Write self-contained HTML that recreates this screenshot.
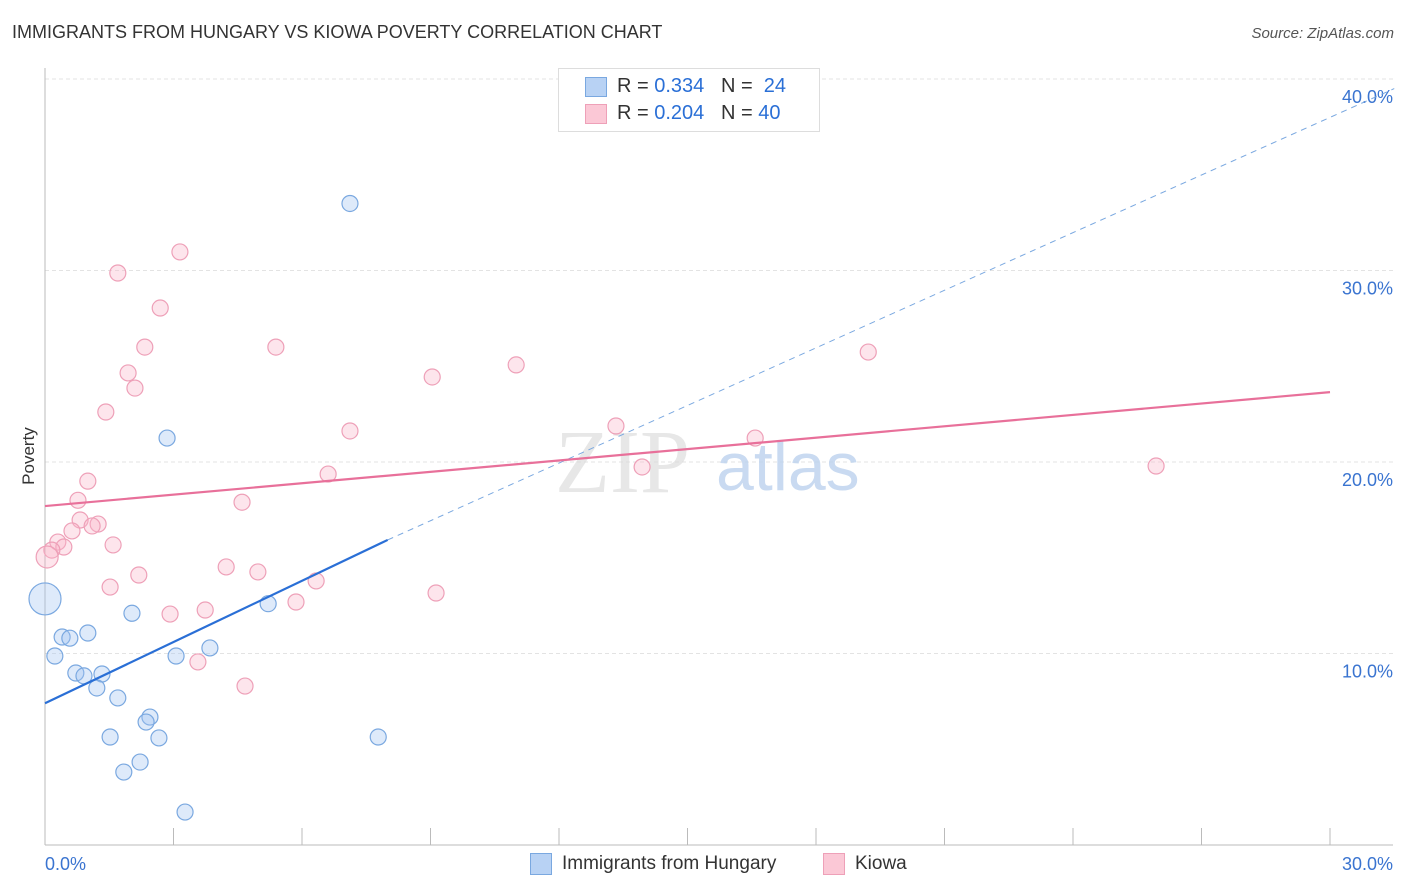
<!DOCTYPE html>
<html><head><meta charset="utf-8"><style>
body{margin:0;background:#fff;font-family:"Liberation Sans",sans-serif;}
#wrap{position:relative;width:1406px;height:892px;overflow:hidden}
.t{position:absolute;white-space:nowrap}
</style></head><body>
<div id="wrap">
<div class="t" style="left:12px;top:22px;font-size:18px;color:#333">IMMIGRANTS FROM HUNGARY VS KIOWA POVERTY CORRELATION CHART</div>
<div class="t" style="right:12px;top:25px;font-size:15px;color:#555;font-style:italic">Source: ZipAtlas.com</div>
<svg id="svg" width="1406" height="892" style="position:absolute;left:0;top:0"></svg>
</div>
<script>
const blueX=[7.12,2.85,0,2.03,5.21,0.40,0.58,1.0,0.23,0.72,0.91,1.33,1.21,1.70,3.06,3.85,2.45,2.36,1.52,2.66,7.78,2.22,1.84,3.27];
const blueY=[33.5,21.25,12.85,12.1,12.6,10.86,10.8,11.07,9.87,8.98,8.83,8.93,8.2,7.68,9.87,10.29,6.68,6.42,5.64,5.59,5.64,4.33,3.81,1.72];
const pinkX=[3.15,1.70,2.69,2.33,5.39,19.22,11.0,1.94,9.04,2.10,1.42,13.33,7.12,16.58,13.94,25.94,6.61,1.0,0.77,4.6,0.82,1.24,1.1,0.63,0.30,1.59,0.44,0.16,0.05,4.23,2.19,4.97,1.52,6.33,9.13,5.86,2.92,3.74,3.57,4.67];
const pinkY=[30.97,29.87,28.04,26.0,26.0,25.74,25.07,24.65,24.44,23.86,22.61,21.88,21.62,21.25,19.74,19.79,19.37,19.0,18.0,17.9,16.97,16.76,16.66,16.4,15.82,15.67,15.56,15.4,15.04,14.52,14.1,14.26,13.47,13.79,13.16,12.69,12.06,12.27,9.56,8.3];
const blueTrend=[7.4,15.93];   // y at x=0 and x=8
const blueDashEnd=[31.5,39.5]; // dashed extension end (x,y)
const pinkTrend=[17.7,23.65];  // y at x=0 and x=30
const yTicks=[10,20,30,40];
const yLabels=["10.0%","20.0%","30.0%","40.0%"];
const NS="http://www.w3.org/2000/svg",svg=document.getElementById('svg');
const X=v=>45+v/30*1285, Y=v=>845-v*19.15;
function mk(tag,a){const e=document.createElementNS(NS,tag);for(const k in a)e.setAttribute(k,a[k]);svg.appendChild(e);return e;}
yTicks.forEach((t,i)=>{
 const g=mk('line',{x1:45,x2:1393,y1:Y(t),y2:Y(t),stroke:'#e3e3e3','stroke-dasharray':'4,3'});
 
 
 const tx=mk('text',{x:1393,y:Y(t)+24,'text-anchor':'end','font-size':18,fill:'#3a74d0','font-family':'Liberation Sans'});
 tx.textContent=yLabels[i];
 
 
});
let ax=mk('line',{x1:45,x2:1393,y1:845,y2:845,stroke:'#bbb'});

ax=mk('line',{x1:45,x2:45,y1:68,y2:845,stroke:'#bbb'});

for(let i=0;i<=10;i++){const l=mk('line',{x1:X(i*3),x2:X(i*3),y1:828,y2:845,stroke:'#bbb'});
 }
let t=mk('text',{x:45,y:870,'font-size':18,fill:'#3a74d0','font-family':'Liberation Sans'});t.textContent='0.0%';

t=mk('text',{x:1393,y:870,'text-anchor':'end','font-size':18,fill:'#3a74d0','font-family':'Liberation Sans'});t.textContent='30.0%';

t=mk('text',{x:34,y:456,'text-anchor':'middle','font-size':17,fill:'#333','font-family':'Liberation Sans',transform:'rotate(-90 34 456)'});t.textContent='Poverty';

t=mk('text',{x:555,y:492,'font-size':90,fill:'#ddd','font-family':'Liberation Serif','opacity':0.7});t.textContent='ZIP';

t=mk('text',{x:716,y:490,'font-size':68,fill:'#bcd2ee','font-family':'Liberation Sans','opacity':0.8});t.textContent='atlas';

pinkX.forEach((x,i)=>{const r=(i==28)?11:8;const c=mk('circle',{cx:X(x),cy:Y(pinkY[i]),r:r,fill:'rgba(248,180,200,0.35)',stroke:'#eea0b8','stroke-width':1.2});
 });
blueX.forEach((x,i)=>{const r=(i==2)?16:8;const c=mk('circle',{cx:X(x),cy:Y(blueY[i]),r:r,fill:'rgba(160,195,240,0.35)',stroke:'#7aa8e0','stroke-width':1.2});
 });
let l=mk('line',{x1:X(8),y1:Y(blueTrend[1]),x2:X(blueDashEnd[0]),y2:Y(blueDashEnd[1]),stroke:'#7aa8e0','stroke-width':1,'stroke-dasharray':'6,5'});

l=mk('line',{x1:X(0),y1:Y(blueTrend[0]),x2:X(8),y2:Y(blueTrend[1]),stroke:'#2a6fd6','stroke-width':2.2});

l=mk('line',{x1:X(0),y1:Y(pinkTrend[0]),x2:X(30),y2:Y(pinkTrend[1]),stroke:'#e8709a','stroke-width':2.2});

</script>
<div class="t" style="left:558px;top:68px;width:260px;height:62px;border:1px solid #ddd;background:#fff">
 <div style="position:absolute;left:26px;top:8px;width:20px;height:18px;background:#b8d2f4;border:1px solid #7aa8e0"></div>
 <div class="t" style="left:58px;top:6px;font-size:20px;color:#333">R = <span style="color:#2a6fd6">0.334</span>&nbsp;&nbsp;&nbsp;N = &nbsp;<span style="color:#2a6fd6">24</span></div>
 <div style="position:absolute;left:26px;top:35px;width:20px;height:18px;background:#fbc8d6;border:1px solid #eea0b8"></div>
 <div class="t" style="left:58px;top:33px;font-size:20px;color:#333">R = <span style="color:#2a6fd6">0.204</span>&nbsp;&nbsp;&nbsp;N = <span style="color:#2a6fd6">40</span></div>
</div>
<div class="t" style="left:530px;top:853px;width:20px;height:20px;background:#b8d2f4;border:1px solid #7aa8e0"></div>
<div class="t" style="left:562px;top:853px;font-size:19px;color:#333">Immigrants from Hungary</div>
<div class="t" style="left:823px;top:853px;width:20px;height:20px;background:#fbc8d6;border:1px solid #eea0b8"></div>
<div class="t" style="left:855px;top:853px;font-size:19px;color:#333">Kiowa</div>
</body></html>
